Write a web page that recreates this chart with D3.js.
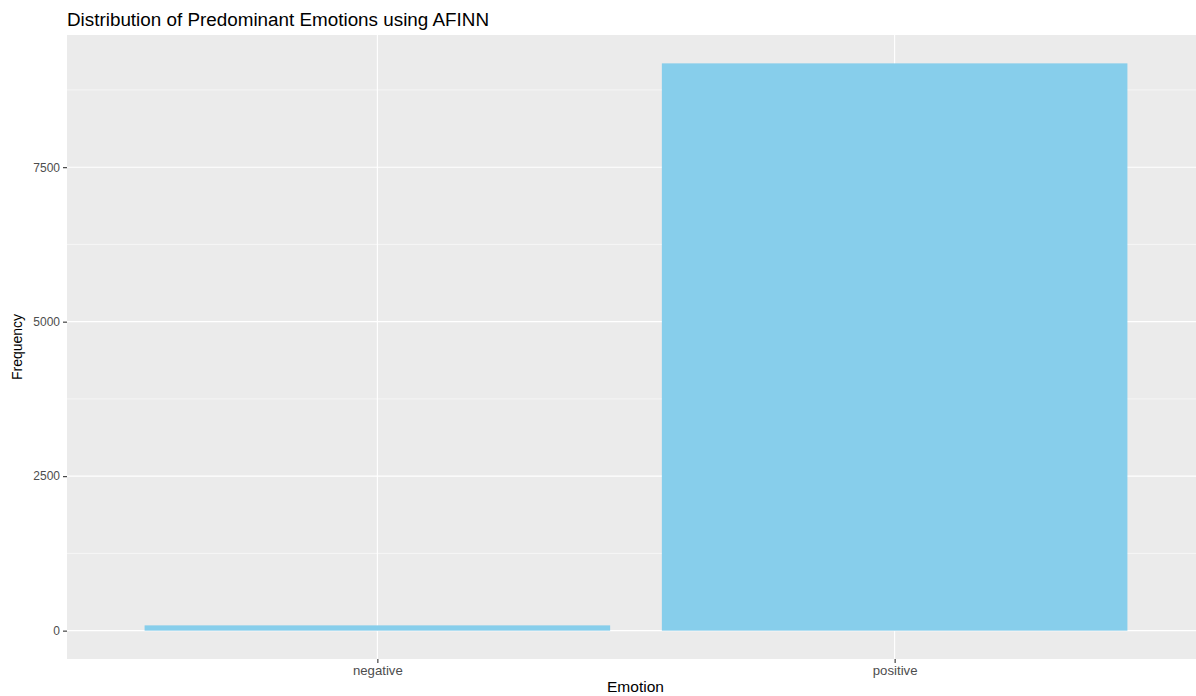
<!DOCTYPE html>
<html>
<head>
<meta charset="utf-8">
<script src="https://cdn.jsdelivr.net/npm/d3@7"></script>
<style>
  html, body { margin: 0; padding: 0; background: #fff; overflow: hidden; }
  svg { display: block; font-family: "Liberation Sans", Arial, sans-serif; }
</style>
</head>
<body>
<svg id="chart" width="1196" height="696"></svg>
<script>
const categories = ["negative", "positive"];
const frequencies = [85, 9180];
const yTicks = [0, 2500, 5000, 7500];
const yMinorTicks = [1250, 3750, 6250, 8750];
const titleText = "Distribution of Predominant Emotions using AFINN";
const xTitle = "Emotion";
const yTitle = "Frequency";

const svg = d3.select("#chart");
const panel = { left: 67, right: 1205, top: 35, bottom: 659 };

const maxV = d3.max(frequencies);
const y = d3.scaleLinear()
  .domain([-0.05 * maxV, maxV * 1.05])
  .range([panel.bottom, panel.top]);

// discrete scale with 0.6 expansion on each side
const idx = d3.scaleLinear()
  .domain([0.4, categories.length + 0.6])
  .range([panel.left, panel.right]);
const xPos = c => idx(categories.indexOf(c) + 1);
const unit = idx(2) - idx(1);
const barW = 0.9 * unit;

// panel background
svg.append("rect")
  .attr("x", panel.left).attr("y", panel.top)
  .attr("width", panel.right - panel.left).attr("height", panel.bottom - panel.top)
  .attr("fill", "#EBEBEB");

// minor grid
svg.append("g").selectAll("line").data(yMinorTicks).join("line")
  .attr("x1", panel.left).attr("x2", panel.right)
  .attr("y1", d => y(d)).attr("y2", d => y(d))
  .attr("stroke", "#fff").attr("stroke-width", 0.55);

// major grid
svg.append("g").selectAll("line").data(yTicks).join("line")
  .attr("x1", panel.left).attr("x2", panel.right)
  .attr("y1", d => y(d)).attr("y2", d => y(d))
  .attr("stroke", "#fff").attr("stroke-width", 1.1);
svg.append("g").selectAll("line").data(categories).join("line")
  .attr("x1", d => xPos(d)).attr("x2", d => xPos(d))
  .attr("y1", panel.top).attr("y2", panel.bottom)
  .attr("stroke", "#fff").attr("stroke-width", 1.1);

// bars
svg.append("g").selectAll("rect").data(categories).join("rect")
  .attr("x", d => xPos(d) - barW / 2)
  .attr("width", barW)
  .attr("y", (d, i) => y(frequencies[i]))
  .attr("height", (d, i) => y(0) - y(frequencies[i]))
  .attr("fill", "#87CEEB");

// y axis
const yAxis = d3.axisLeft(y).tickValues(yTicks).tickSize(4).tickPadding(3).tickFormat(d3.format("d"));
const gy = svg.append("g").attr("transform", `translate(${panel.left},0)`).call(yAxis);
gy.select(".domain").remove();
gy.selectAll(".tick line").attr("stroke", "#333").attr("stroke-width", 1.1);
gy.selectAll(".tick text").attr("fill", "#4D4D4D").style("font-size", "12px");

// x axis
const xBand = d3.scaleOrdinal().domain(categories).range(categories.map(xPos));
const xAxis = d3.axisBottom(xBand).tickSize(4).tickPadding(3);
const gx = svg.append("g").attr("transform", `translate(0,${panel.bottom})`).call(xAxis);
gx.select(".domain").remove();
gx.selectAll(".tick line").attr("stroke", "#333").attr("stroke-width", 1.1);
gx.selectAll(".tick text").attr("fill", "#4D4D4D").style("font-size", "12px")
  .attr("transform", "scale(1.1,1)");

// titles
svg.append("text").attr("x", panel.left).attr("y", 26)
  .attr("fill", "#000").style("font-size", "18px")
  .attr("textLength", 422).attr("lengthAdjust", "spacingAndGlyphs")
  .text(titleText);
svg.append("text").attr("x", 607).attr("y", 692)
  .attr("fill", "#000").style("font-size", "14px")
  .attr("textLength", 57).attr("lengthAdjust", "spacingAndGlyphs")
  .text(xTitle);
svg.append("text")
  .attr("transform", `translate(22,${(panel.top + panel.bottom) / 2}) rotate(-90)`)
  .attr("text-anchor", "middle").attr("fill", "#000").style("font-size", "14px").text(yTitle);
</script>
</body>
</html>
